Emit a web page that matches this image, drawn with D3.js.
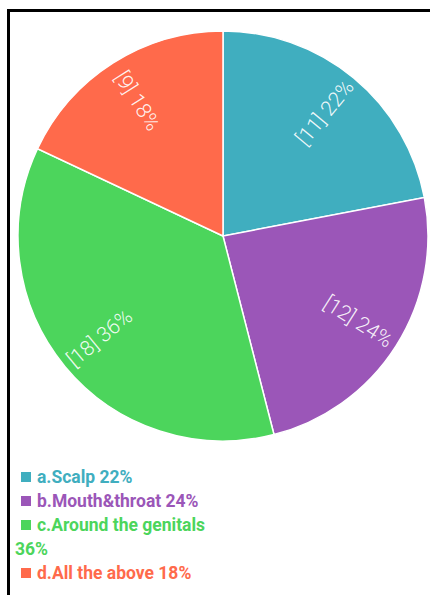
<!DOCTYPE html>
<html>
<head>
<meta charset="utf-8">
<script src="https://cdn.jsdelivr.net/npm/d3@7"></script>
<style>
  html, body { margin: 0; padding: 0; background: #fff; }
  svg { display: block; font-family: Roboto, "Noto Sans", sans-serif; }
</style>
</head>
<body>
<svg id="chart" width="430" height="595"></svg>
<script>
// Survey answers: where the lesions appear
const categories = ["a.Scalp", "b.Mouth&throat", "c.Around the genitals", "d.All the above"];
const counts = [11, 12, 18, 9];
const percents = [22, 24, 36, 18];
const colors = ["#40aebf", "#9b56b8", "#4cd55c", "#ff6a4b"];

const W = 430, H = 595;
const cx = 223, cy = 236, radius = 205;

const svg = d3.select("#chart");

// frame: top and left rules
svg.append("line").attr("x1", 7).attr("x2", W).attr("y1", 10.5).attr("y2", 10.5)
  .attr("stroke", "#000").attr("stroke-width", 3);
svg.append("line").attr("x1", 8.5).attr("x2", 8.5).attr("y1", 9).attr("y2", H)
  .attr("stroke", "#000").attr("stroke-width", 3);

const data = categories.map((c, i) => ({ cat: c, n: counts[i], pct: percents[i], color: colors[i] }));

const pie = d3.pie().value(d => d.n).sort(null);
const arc = d3.arc().innerRadius(0).outerRadius(radius);
const arcs = pie(data);

const g = svg.append("g").attr("transform", `translate(${cx},${cy})`);

g.selectAll("path.slice").data(arcs).join("path")
  .attr("class", "slice")
  .attr("d", arc)
  .attr("fill", d => d.data.color)
  .attr("stroke", "#fff")
  .attr("stroke-width", 1.5);

// radial labels, read from the centre outward (flipped on the left half)
const labelR = 160;
g.selectAll("text.lbl").data(arcs).join("text")
  .attr("class", "lbl")
  .attr("transform", d => {
    const mid = (d.startAngle + d.endAngle) / 2;
    const deg = mid * 180 / Math.PI;
    const x = labelR * Math.sin(mid), y = -labelR * Math.cos(mid);
    const rot = deg < 180 ? deg - 90 : deg - 270;
    return `translate(${x},${y}) rotate(${rot})`;
  })
  .attr("text-anchor", "middle")
  .attr("dominant-baseline", "central")
  .attr("fill", "#ffffff")
  .attr("fill-opacity", 0.92)
  .attr("font-size", 21)
  .attr("font-weight", 300)
  .text(d => `[${d.data.n}] ${d.data.pct}%`);

// legend with wrapping text
const legend = svg.append("g").attr("font-size", 17.5).attr("font-weight", 700);
const maxW = 185;
let y = 483;
const lineH = 24;
data.forEach(d => {
  legend.append("rect").attr("x", 21).attr("y", y - 11).attr("width", 10).attr("height", 10)
    .attr("fill", d.color);
  const words = `${d.cat} ${d.pct}%`.split(" ");
  let line = [];
  let t = legend.append("text").attr("x", 37).attr("y", y).attr("fill", d.color);
  words.forEach(w => {
    line.push(w);
    t.text(line.join(" "));
    if (t.node().getComputedTextLength() > maxW && line.length > 1) {
      line.pop();
      t.text(line.join(" "));
      line = [w];
      y += lineH;
      t = legend.append("text").attr("x", 15).attr("y", y).attr("fill", d.color).text(w);
    }
  });
  y += lineH;
});
</script>
</body>
</html>
